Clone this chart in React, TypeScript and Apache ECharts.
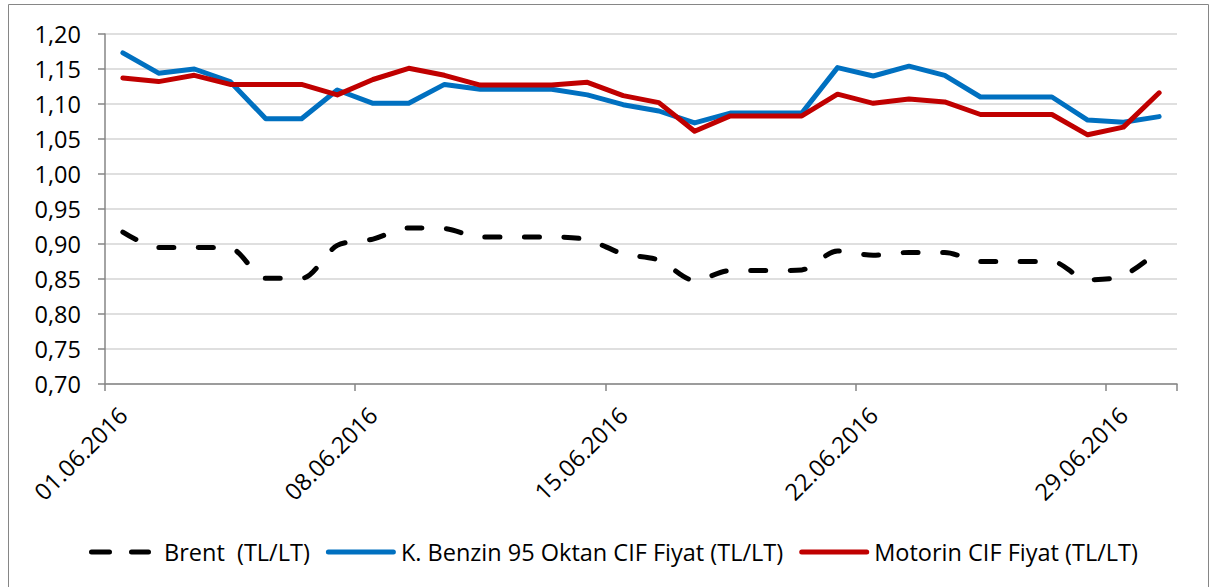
import React, { useEffect, useRef } from "react";
import * as echarts from "echarts";

const categories = [
  "01.06.2016", "02.06.2016", "03.06.2016", "04.06.2016", "05.06.2016",
  "06.06.2016", "07.06.2016", "08.06.2016", "09.06.2016", "10.06.2016",
  "11.06.2016", "12.06.2016", "13.06.2016", "14.06.2016", "15.06.2016",
  "16.06.2016", "17.06.2016", "18.06.2016", "19.06.2016", "20.06.2016",
  "21.06.2016", "22.06.2016", "23.06.2016", "24.06.2016", "25.06.2016",
  "26.06.2016", "27.06.2016", "28.06.2016", "29.06.2016", "30.06.2016",
];

const brent = [
  0.917, 0.895, 0.895, 0.894, 0.851, 0.851, 0.898, 0.907, 0.923, 0.922,
  0.910, 0.910, 0.910, 0.906, 0.886, 0.877, 0.848, 0.862, 0.862, 0.863,
  0.890, 0.884, 0.888, 0.888, 0.875, 0.875, 0.875, 0.849, 0.855, 0.891,
];

const benzin = [
  1.173, 1.144, 1.150, 1.132, 1.079, 1.079, 1.120, 1.101, 1.101, 1.128,
  1.121, 1.121, 1.121, 1.113, 1.099, 1.090, 1.073, 1.087, 1.087, 1.087,
  1.152, 1.140, 1.154, 1.141, 1.110, 1.110, 1.110, 1.077, 1.074, 1.082,
];

const motorin = [
  1.137, 1.132, 1.141, 1.128, 1.128, 1.128, 1.113, 1.135, 1.151, 1.141,
  1.127, 1.127, 1.127, 1.131, 1.112, 1.102, 1.061, 1.083, 1.083, 1.083,
  1.114, 1.101, 1.107, 1.103, 1.085, 1.085, 1.085, 1.056, 1.067, 1.116,
];

const seriesNames = [
  "Brent  (TL/LT)",
  "K. Benzin 95 Oktan CIF Fiyat (TL/LT)",
  "Motorin CIF Fiyat (TL/LT)",
];

const FONT = "'Open Sans', 'Noto Sans', sans-serif";

const DASH_ICON = "path://M2.5,0H20.5A2.5,2.5,0,0,1,20.5,5H2.5A2.5,2.5,0,0,1,2.5,0Z M42.5,0H59.5A2.5,2.5,0,0,1,59.5,5H42.5A2.5,2.5,0,0,1,42.5,0Z M70,0L70,5L70,0Z M0,2.5L0,2.5Z";
const SOLID_ICON = "path://M2.5,0H67.5A2.5,2.5,0,0,1,67.5,5H2.5A2.5,2.5,0,0,1,2.5,0Z M0,2.5L0,2.5Z";

export default function App() {
  const ref = useRef<HTMLDivElement>(null);

  useEffect(() => {
    const chart = echarts.init(ref.current!, null, { renderer: "svg" });
    chart.setOption({
      animation: false,
      backgroundColor: "#ffffff",
      textStyle: { fontFamily: FONT },
      graphic: [
        {
          type: "rect",
          shape: { x: 8.5, y: 4.5, width: 1200, height: 600 },
          style: { fill: "none", stroke: "#868686", lineWidth: 1 },
          silent: true,
        },
      ],
      grid: { left: 105, right: 33, top: 34, bottom: 203, containLabel: false },
      legend: {
        data: [
          { name: seriesNames[0], icon: DASH_ICON },
          { name: seriesNames[1], icon: SOLID_ICON },
          { name: seriesNames[2], icon: SOLID_ICON },
        ],
        left: 84,
        top: 535,
        itemWidth: 70,
        itemHeight: 5,
        itemGap: 16,
        symbolKeepAspect: false,
        itemStyle: { borderWidth: 0 },
        textStyle: { fontFamily: FONT, fontSize: 23.5, color: "#000" },
      },
      xAxis: {
        type: "category",
        data: categories,
        boundaryGap: true,
        axisLine: { lineStyle: { color: "#868686", width: 1.5 } },
        axisTick: { show: true, interval: 6, length: 7, lineStyle: { color: "#868686", width: 1.5 } },
        axisLabel: {
          interval: 6,
          rotate: 45,
          margin: 27,
          fontFamily: FONT,
          fontSize: 23.5,
          color: "#000",
        },
        splitLine: { show: false },
      },
      yAxis: {
        type: "value",
        min: 0.7,
        max: 1.2,
        interval: 0.05,
        axisLine: { show: true, lineStyle: { color: "#868686", width: 1.5 } },
        axisTick: { show: true, length: 7, lineStyle: { color: "#868686", width: 1.5 } },
        axisLabel: {
          margin: 24,
          fontFamily: FONT,
          fontSize: 23.5,
          color: "#000",
          formatter: (v: number) => v.toFixed(2).replace(".", ","),
        },
        splitLine: { show: true, lineStyle: { color: "#d4d4d4", width: 1.5 } },
      },
      series: [
        {
          name: seriesNames[0],
          type: "line",
          data: brent,
          showSymbol: false,
          symbol: "none",
          smooth: 0.3,
          color: "#000000",
          lineStyle: { color: "#000000", width: 5, type: [15, 24.5], cap: "round", join: "round" },
        },
        {
          name: seriesNames[1],
          type: "line",
          data: benzin,
          showSymbol: false,
          symbol: "none",
          color: "#0070C0",
          lineStyle: { color: "#0070C0", width: 5, cap: "round", join: "round" },
        },
        {
          name: seriesNames[2],
          type: "line",
          data: motorin,
          showSymbol: false,
          symbol: "none",
          color: "#C00000",
          lineStyle: { color: "#C00000", width: 5, cap: "round", join: "round" },
        },
      ],
    });
    return () => chart.dispose();
  }, []);

  return (
    <div
      ref={ref}
      style={{ position: "fixed", left: 0, top: 0, width: 1210, height: 587, background: "#fff" }}
    />
  );
}
